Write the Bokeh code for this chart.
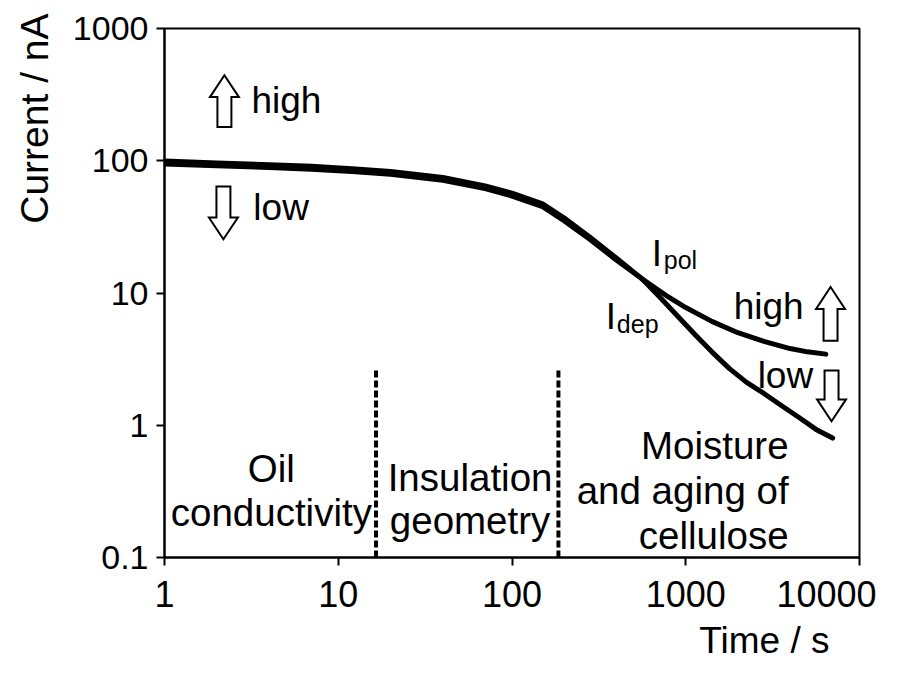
import math
from bokeh.plotting import figure
from bokeh.models import Range1d, FixedTicker, Label, Title
from bokeh.embed import file_html
from bokeh.resources import INLINE

# ---------------- data ----------------
t_pol = [1, 2, 4, 7, 12, 20, 40, 70, 100, 150, 200, 280, 400, 560,
         794, 1000, 1413, 1995, 2818, 3981, 5012, 6400]
i_pol = [99.5, 96.3, 93.3, 90.7, 87.1, 83.0, 74.8, 64.6, 56.9, 47.2, 36.9, 26.5, 18.3, 12.8,
         9.33, 7.76, 6.10, 5.01, 4.31, 3.80, 3.59, 3.45]
t_dep = [1, 2, 4, 7, 12, 20, 40, 70, 100, 150, 200, 280, 400, 560,
         708, 891, 1122, 1413, 1778, 2239, 2818, 3548, 4467, 5623, 7000]
i_dep = [94.6, 91.7, 88.8, 86.3, 82.9, 79.0, 71.2, 61.5, 54.1, 44.9, 35.1, 25.5, 17.7, 12.8,
         9.33, 6.76, 4.90, 3.59, 2.69, 2.11, 1.74, 1.41, 1.15, 0.93, 0.80]
boundary_t = [16.5, 185]
boundary_top = [2.7, 2.7]
x_ticks = [1, 10, 100, 1000, 10000]
x_tick_labels = ["1", "10", "100", "1000", "10000"]
y_ticks = [0.1, 1, 10, 100, 1000]
y_tick_labels = ["0.1", "1", "10", "100", "1000"]
region_lines = [
    (["Oil", "conductivity"], 270, [480, 525], "center"),
    (["Insulation", "geometry"], 469, [490, 533], "center"),
    (["Moisture", "and aging of", "cellulose"], 788, [457, 503, 548], "right"),
]

X0, X1 = 1, 10000
Y0, Y1 = 0.1, 1000

# frame geometry (canvas pixels)
FL, FR, FT, FB = 163, 859, 28, 560
W, H = 886, 660
FONT = "Liberation Sans"
TEXT_SHIFT = 10  # empirical baseline correction (px, upward)


def dx(px):
    lx0, lx1 = math.log10(X0), math.log10(X1)
    return 10 ** (lx0 + (px - FL) / (FR - FL) * (lx1 - lx0))


def dy(py):
    ly0, ly1 = math.log10(Y0), math.log10(Y1)
    return 10 ** (ly1 - (py - FT) / (FB - FT) * (ly1 - ly0))


p = figure(width=W, height=H, x_axis_type="log", y_axis_type="log",
           x_range=Range1d(X0, X1), y_range=Range1d(Y0, Y1),
           output_backend="svg", toolbar_location=None,
           min_border_left=FL, min_border_right=W - FR,
           min_border_top=FT, min_border_bottom=H - FB)
p.grid.visible = False
p.background_fill_color = "white"
p.border_fill_color = "white"
p.outline_line_color = "black"
p.outline_line_width = 2

for ax in (p.xaxis, p.yaxis):
    ax.axis_line_width = 2
    ax.axis_line_color = "black"
    ax.major_tick_line_width = 2
    ax.major_tick_in = 0
    ax.major_tick_out = 8
    ax.minor_tick_line_color = None
    ax.axis_label = None
    ax.major_label_text_font = FONT
    ax.major_label_text_color = "black"

# x tick labels (the last one is padded so it stays inside the canvas)
x_display = [lab + ("\u00a0" if lab == "10000" else "") for lab in x_tick_labels]
p.xaxis.ticker = FixedTicker(ticks=x_ticks)
p.xaxis.major_label_overrides = dict(zip(x_ticks, x_display))
p.xaxis.major_label_text_font_size = "36px"
p.xaxis.major_label_standoff = 8

p.yaxis.ticker = FixedTicker(ticks=y_ticks)
p.yaxis.major_label_overrides = dict(zip(y_ticks, y_tick_labels))
p.yaxis.major_label_text_font_size = "34px"
p.yaxis.major_label_standoff = 8

# axis titles
p.add_layout(Title(text="Current / nA", align="right", offset=-15, vertical_align="top",
                   standoff=24, text_font=FONT, text_font_size="39px",
                   text_font_style="normal", text_color="black"), "left")
p.add_layout(Title(text="Time / s", align="right", offset=30, standoff=0,
                   text_font=FONT, text_font_size="37px",
                   text_font_style="normal", text_color="black"), "below")

# region boundaries
p.segment(x0=boundary_t, y0=[Y0] * len(boundary_t), x1=boundary_t, y1=boundary_top,
          line_color="black", line_width=4, line_dash="7 3")

# curves
p.line(t_pol, i_pol, line_color="black", line_width=5, line_cap="round", line_join="round")
p.line(t_dep, i_dep, line_color="black", line_width=5, line_cap="round", line_join="round")


# hollow block arrows
def arrow(cx, tip, tail):
    d = 1 if tail > tip else -1
    hb = tip + d * 22
    pts = [(cx, tip), (cx + 14.5, hb), (cx + 7, hb), (cx + 7, tail), (cx - 7, tail),
           (cx - 7, hb), (cx - 14.5, hb)]
    xs = [dx(a) for a, _ in pts]
    ys = [dy(b) for _, b in pts]
    p.patch(xs, ys, fill_color="white", line_color="black", line_width=2, line_join="miter")


arrow(223, 75, 127)
arrow(222, 240, 187)
arrow(830, 288, 342)
arrow(831, 423, 372)


def txt(s, px, py, size="37px", align="left"):
    p.add_layout(Label(x=dx(px), y=dy(py - TEXT_SHIFT), text=s, text_align=align,
                       text_baseline="alphabetic", text_font=FONT, text_font_size=size,
                       text_color="black"))


txt("high", 250, 110)
txt("low", 252, 218)
txt("high", 733, 318)
txt("low", 757, 387)
txt("I", 651, 264)
txt("pol", 663, 271, size="25px")
txt("I", 605, 328)
txt("dep", 616, 335, size="25px")

for lines, xc, ys, align in region_lines:
    for s, yb in zip(lines, ys):
        txt(s, xc, yb, size="38.5px", align=align)

open("out.html", "w").write(file_html(p, INLINE))
